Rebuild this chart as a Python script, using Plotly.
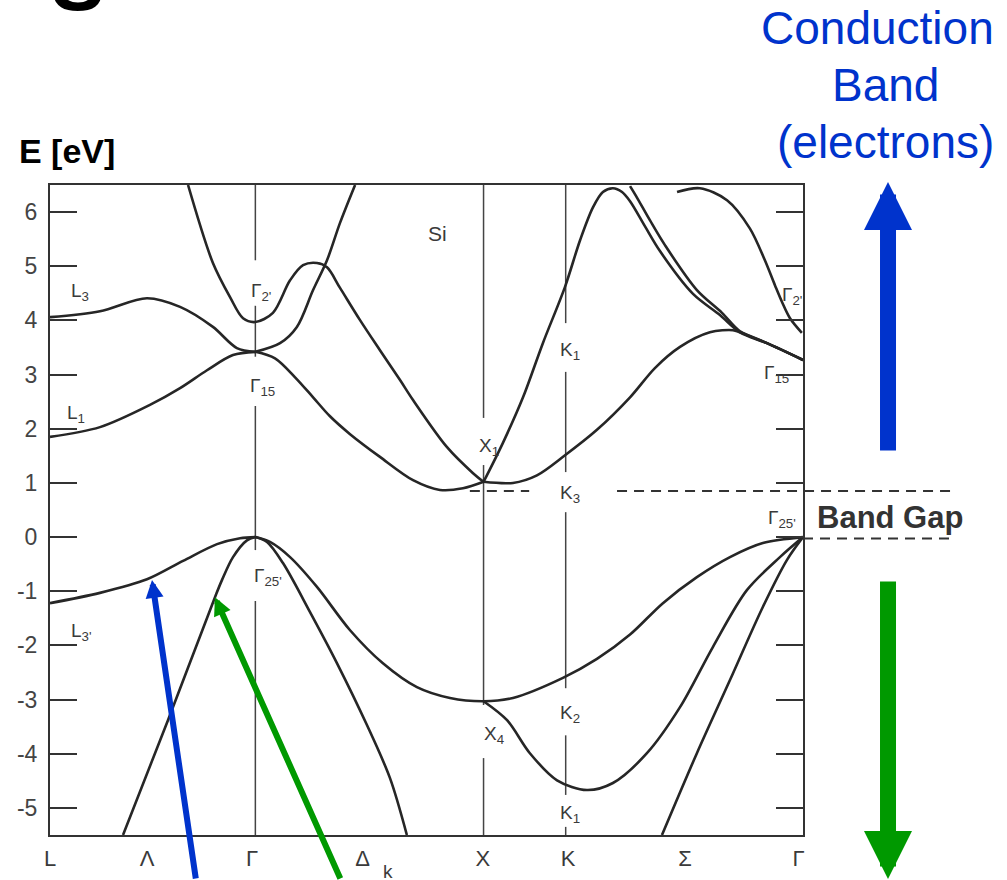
import plotly.graph_objects as go

# ---------------------------------------------------------------
# Band structure of Si along L - Γ - X - K - Γ
# ---------------------------------------------------------------
E_MIN, E_MAX = -5.5, 6.5
K_MAX = 3.3

# symmetry points on the k path
K_L, K_G, K_X, K_K, K_G2 = 0.0, 0.9, 1.9, 2.26, 3.3

# energy axis ticks
y_ticks = [-5, -4, -3, -2, -1, 0, 1, 2, 3, 4, 5, 6]

# k-axis labels
x_label_k = [0.0, 0.425, 0.885, 1.37, 1.897, 2.27, 2.783, 3.28]
x_label_text = ["L", "Λ", "Γ", "Δ", "X", "K", "Σ", "Γ"]

# band edges (eV)
E_cbm = 0.85
E_vbm = 0.0

# ---- valence bands ----
lam3_k = [0.0, 0.219, 0.425, 0.583, 0.732, 0.833, 0.9]
lam3_E = [-1.22, -1.03, -0.78, -0.44, -0.13, -0.02, 0.0]

lam1_k = [0.32, 0.517, 0.723, 0.754, 0.802, 0.863, 0.9]
lam1_E = [-5.5, -3.38, -1.11, -0.79, -0.37, -0.06, 0.0]

heavy_k = [0.9, 0.964, 1.052, 1.170, 1.315, 1.459, 1.608, 1.753, 1.9,
           2.029, 2.248, 2.397, 2.542, 2.686, 2.835, 2.980, 3.124, 3.3]
heavy_E = [0.0, -0.09, -0.37, -0.92, -1.72, -2.33, -2.77, -2.97, -3.03,
           -2.97, -2.60, -2.25, -1.80, -1.22, -0.74, -0.37, -0.11, 0.0]

light_k = [0.9, 0.951, 1.021, 1.139, 1.258, 1.389, 1.490, 1.564]
light_E = [0.0, -0.09, -0.48, -1.38, -2.33, -3.47, -4.45, -5.5]

x4_k = [1.9, 2.003, 2.103, 2.222, 2.353, 2.467, 2.616, 2.761, 2.905, 3.054, 3.199, 3.3]
x4_E = [-3.03, -3.38, -3.99, -4.49, -4.67, -4.54, -3.99, -3.14, -2.03, -0.98, -0.37, 0.0]

sig_k = [2.682, 2.835, 2.980, 3.124, 3.230, 3.3]
sig_E = [-5.5, -3.99, -2.64, -1.29, -0.42, 0.0]

# ---- conduction bands ----
l1_k = [0.0, 0.219, 0.438, 0.570, 0.688, 0.802, 0.9]
l1_E = [1.85, 2.03, 2.44, 2.75, 3.08, 3.36, 3.42]

l3_k = [0.0, 0.219, 0.425, 0.570, 0.714, 0.819, 0.9]
l3_E = [4.06, 4.17, 4.41, 4.25, 3.88, 3.49, 3.42]

g2_k = [0.605, 0.714, 0.789, 0.846, 0.9, 0.977, 1.052, 1.109, 1.170, 1.214,
        1.271, 1.358, 1.446, 1.534, 1.591, 1.740, 1.854, 1.9]
g2_E = [6.5, 5.06, 4.43, 4.04, 3.97, 4.14, 4.74, 5.02, 5.06, 4.98,
        4.60, 4.01, 3.45, 2.90, 2.53, 1.66, 1.18, 1.02]

g15_k = [0.9, 1.008, 1.082, 1.153, 1.214, 1.271, 1.337]
g15_E = [3.42, 3.58, 3.88, 4.56, 5.11, 5.80, 6.5]

d1_k = [0.9, 0.986, 1.074, 1.153, 1.227, 1.315, 1.446, 1.591, 1.709, 1.810, 1.9]
d1_E = [3.42, 3.30, 2.95, 2.58, 2.23, 1.90, 1.48, 1.05, 0.87, 0.90, 1.02]

ka_k = [1.9, 1.985, 2.073, 2.160, 2.257, 2.323, 2.380, 2.423, 2.467, 2.507,
        2.542, 2.607, 2.673, 2.818, 2.936, 3.024, 3.142, 3.3]
ka_E = [1.02, 1.74, 2.58, 3.58, 4.62, 5.48, 6.09, 6.37, 6.44, 6.37,
        6.20, 5.74, 5.28, 4.49, 4.10, 3.78, 3.58, 3.27]

kb_k = [2.542, 2.568, 2.629, 2.695, 2.835, 2.945, 3.024, 3.142, 3.3]
kb_E = [6.48, 6.30, 5.85, 5.39, 4.56, 4.14, 3.80, 3.58, 3.27]

ls_k = [1.9, 2.029, 2.134, 2.257, 2.397, 2.542, 2.651, 2.761, 2.892, 2.993, 3.024, 3.142, 3.3]
ls_E = [1.02, 1.00, 1.14, 1.51, 1.98, 2.58, 3.12, 3.51, 3.78, 3.82, 3.78, 3.58, 3.27]

g2r_k = [2.748, 2.848, 2.967, 3.067, 3.133, 3.177, 3.208, 3.243, 3.295]
g2r_E = [6.37, 6.44, 6.22, 5.70, 5.11, 4.65, 4.34, 4.04, 3.77]

bands = [
    (lam3_k, lam3_E), (lam1_k, lam1_E), (heavy_k, heavy_E), (light_k, light_E),
    (x4_k, x4_E), (sig_k, sig_E),
    (l1_k, l1_E), (l3_k, l3_E), (g2_k, g2_E), (g15_k, g15_E), (d1_k, d1_E),
    (ka_k, ka_E), (kb_k, kb_E), (ls_k, ls_E), (g2r_k, g2r_E),
]

# symmetry-point labels: (text, k, E)
point_labels = [
    ("L<sub>3</sub>", 0.13, 4.52),
    ("L<sub>1</sub>", 0.115, 2.27),
    ("L<sub>3'</sub>", 0.14, -1.76),
    ("Γ<sub>2'</sub>", 0.925, 4.52),
    ("Γ<sub>15</sub>", 0.93, 2.77),
    ("Γ<sub>25'</sub>", 0.955, -0.74),
    ("X<sub>1</sub>", 1.925, 1.66),
    ("K<sub>1</sub>", 2.28, 3.43),
    ("K<sub>3</sub>", 2.28, 0.79),
    ("X<sub>4</sub>", 1.945, -3.66),
    ("K<sub>2</sub>", 2.28, -3.27),
    ("K<sub>1</sub>", 2.28, -5.12),
    ("Γ<sub>2'</sub>", 3.25, 4.46),
    ("Γ<sub>15</sub>", 3.185, 3.01),
    ("Γ<sub>25'</sub>", 3.21, 0.33),
]

# vertical guide lines at symmetry points, broken where labels sit
guides = [
    (K_G, [(6.5, 5.11), (4.27, 3.33), (2.42, -0.24), (-1.18, -5.5)]),
    (K_X, [(6.5, 2.20), (1.33, -3.10), (-4.08, -5.5)]),
    (K_K, [(6.5, 3.95), (3.05, 1.20), (0.46, -2.79), (-3.66, -4.76), (-5.35, -5.5)]),
]

LINE = "#262626"
INK = "#3a3a3a"
BLUE = "#0033cc"
GREEN = "#009900"
FONT = "Liberation Sans, Arial, Helvetica, sans-serif"

fig = go.Figure()

# guide lines
gx, gy = [], []
for k, segs in guides:
    for a, b in segs:
        gx += [k, k, None]
        gy += [a, b, None]
fig.add_trace(go.Scatter(x=gx, y=gy, mode="lines",
                         line=dict(color="#444444", width=1.5),
                         hoverinfo="skip", showlegend=False))

# bands
for bk, be in bands:
    fig.add_trace(go.Scatter(x=bk, y=be, mode="lines",
                             line=dict(color=LINE, width=2.6, shape="spline", smoothing=0.9),
                             hoverinfo="skip", showlegend=False))


def px_x(k):
    return k / K_MAX


def px_y(e):
    return (e - E_MIN) / (E_MAX - E_MIN)


# band-edge dashes
dash_style = dict(color="#333333", width=2, dash="10px,7px")
shapes = [
    dict(type="line", xref="paper", yref="paper", x0=px_x(1.84), x1=px_x(2.10),
         y0=px_y(E_cbm), y1=px_y(E_cbm), line=dash_style),
    dict(type="line", xref="paper", yref="paper", x0=px_x(2.485), x1=px_x(3.966),
         y0=px_y(E_cbm), y1=px_y(E_cbm), line=dash_style),
    dict(type="line", xref="paper", yref="paper", x0=px_x(3.3), x1=px_x(3.966),
         y0=px_y(E_vbm) - 0.002, y1=px_y(E_vbm) - 0.002, line=dash_style),
]


def note(x, y, text, size, color=INK, ref="paper", **kw):
    return dict(x=x, y=y, xref=ref, yref=ref, text=text, showarrow=False,
                xanchor="center", yanchor="middle",
                font=dict(family=FONT, size=size, color=color), **kw)


def pointer(x, y, ax, ay, color, width, ref="paper"):
    return dict(x=x, y=y, xref=ref, yref=ref, text="", showarrow=True,
                ax=ax, ay=ay, arrowhead=2, arrowsize=0.6, arrowwidth=width,
                arrowcolor=color, standoff=0, startstandoff=0)


annotations = [note(k, e, txt, 19, ref="x") for txt, k, e in point_labels]
annotations = [dict(a, yref="y") for a in annotations]

annotations += [
    dict(note(1.696, 5.61, "Si", 21, ref="x"), yref="y"),
    note(0.449, -0.056, "k", 19),
    note(0.0226, 1.0523, "<b>E [eV]</b>", 34, color="#000000"),
    note(0.036, 1.311, "<b>S</b>", 80, color="#000000"),
    note(1.115, 0.489, "<b>Band Gap</b>", 31, color="#333333"),
    note(1.0990, 1.2423, "Conduction", 46, color=BLUE),
    note(1.1089, 1.1538, "Band", 46, color=BLUE),
    note(1.1089, 1.0669, "(electrons)", 46, color=BLUE),
    # large band arrows
    pointer(1.1129, 1.0046, 0, 270, BLUE, 16),
    pointer(1.1129, -0.0692, 0, -300, GREEN, 16),
    # pointers to the two upper valence bands along Λ
    dict(pointer(0.447, -0.79, 44, 320, BLUE, 6, ref="x"), yref="y"),
    dict(pointer(0.723, -1.11, 126, 303, GREEN, 6, ref="x"), yref="y"),
]

fig.update_layout(
    width=1007, height=880,
    margin=dict(l=50, r=204, t=185, b=45, pad=0, autoexpand=False),
    paper_bgcolor="white", plot_bgcolor="white",
    font=dict(family=FONT),
    shapes=shapes,
    annotations=annotations,
    showlegend=False,
)

fig.update_xaxes(
    range=[0, K_MAX], showgrid=False, zeroline=False, automargin=False,
    showline=True, linewidth=2, linecolor="#333333", mirror=True,
    ticks="", tickvals=x_label_k, ticktext=x_label_text,
    tickfont=dict(family=FONT, size=22, color=INK),
    ticklabelstandoff=3,
)
fig.update_yaxes(
    range=[E_MIN, E_MAX], showgrid=False, zeroline=False, automargin=False,
    showline=True, linewidth=2, linecolor="#333333", mirror="ticks",
    ticks="inside", ticklen=27, tickwidth=2, tickcolor="#333333",
    tickvals=y_ticks, ticktext=[str(v) for v in y_ticks],
    tickfont=dict(family=FONT, size=23, color="#444444"),
    ticklabelstandoff=6,
)

fig.write_html("out.html")
